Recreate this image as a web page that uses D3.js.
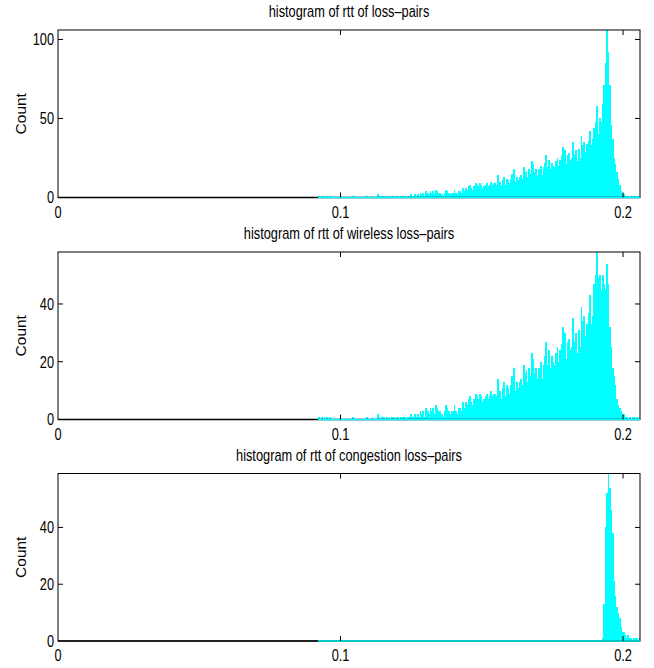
<!DOCTYPE html>
<html><head><meta charset="utf-8">
<script src="https://cdn.jsdelivr.net/npm/d3@7"></script>
<style>
body{margin:0;background:#fff}
.lbl{font-family:"Liberation Sans",Arial,sans-serif;font-size:16px;fill:#000}
.ylab{font-family:"Liberation Sans",Arial,sans-serif;font-size:15.5px;fill:#000}
</style>
</head><body>
<svg id="c" width="654" height="668"></svg>
<script>
// ---- data ----
const titles = ["histogram of rtt of loss\u2013pairs", "histogram of rtt of wireless loss\u2013pairs", "histogram of rtt of congestion loss\u2013pairs"];
const yLabel = "Count";
const binStart = 0.092;
const binWidth = 0.0005;
const xDomainMax = 0.206;
const xTicks = [0, 0.1, 0.2];
const xTickLabels = ["0", "0.1", "0.2"];
const yMaxes = [106, 58, 59];
const yTicks1 = [0, 50, 100];
const yTicks2 = [0, 20, 40];
const yTicks3 = [0, 20, 40];

const countsAll = [
1,0,1,0,1,0,1,0,1,0, 0,0,0,0,0,0,0,0,0,0, 0,0,0,0,1,0,0,0,0,0, 0,0,0,0,1,0,0,0,1,0,
0,0,2,1,0,1,1,0,1,0, 1,0,1,1,0,1,1,0,1,1, 1,1,0,1,1,2,1,1,2,1, 2,1,3,2,3,1,4,3,2,4,
3,4,2,5,4,3,
3,2,1,3,5,4,3,2,3,3, 5,3,2,4,4,3,6,4,6,5, 7,8,6,5,7,9,8,7,9,8, 6,7,8,9,7,8,10,8,9,9,
8,14,10,7,11,13,8,12,11,9, 12,15,18,10,13,11,13,14,12,19, 16,17,13,18,15,23,21,16,18,14,
18,20,14,19,22,27,19,24,18,22, 20,19,23,25,20,24,26,32,30,21, 27,28,24,25,35,27,30,23,31,25,
39,33,35,29,34,36,42,33,37,44, 48,58,40,50,48,59,71,85,106,92, 71,46,37,25,21,16,12,8,4,3,
2,1,1,1,0,1,1,1,1,0,1,1
];

const countsWireless = [
1,0,1,0,1,0,1,0,1,0, 0,0,0,0,0,0,0,0,0,0, 0,0,0,0,1,0,0,0,0,0, 0,0,0,0,1,0,0,0,1,0,
0,0,2,1,0,1,1,0,1,0, 1,0,1,1,0,1,1,0,1,1, 1,1,0,1,1,2,1,1,2,1, 2,1,3,2,3,1,4,3,2,4,
3,4,2,5,4,3,
3,2,1,3,5,4,3,2,3,3, 5,3,2,4,4,3,6,4,6,5, 7,8,6,5,7,9,8,7,9,8, 6,7,8,9,7,8,10,8,9,9,
8,14,10,7,11,13,8,12,11,9, 12,15,18,10,13,11,13,14,12,19, 16,17,13,18,15,23,21,16,18,14,
18,20,14,19,22,27,19,24,18,22, 20,19,23,25,20,24,26,32,30,21, 27,28,24,25,35,27,30,23,31,25,
39,34,36,29,33,37,43,33,36,47, 50,58,49,50,45,50,47,45,54,47, 32,25,18,15,12,7,5,4,3,2,
2,1,1,0,1,0,1,1,0,1,0,1
];

const countsCongestion = [
0,0,0,0,0,0,0,0,0,0, 0,0,0,0,0,0,0,0,0,0, 0,0,0,0,0,0,0,0,0,0, 0,0,0,0,0,0,0,0,0,0,
0,0,0,0,0,0,0,0,0,0, 0,0,0,0,0,0,0,0,0,0, 0,0,0,0,0,0,0,0,0,0, 0,0,0,0,0,0,0,0,0,0,
0,0,0,0,0,0,
0,0,0,0,0,0,0,0,0,0, 0,0,0,0,0,0,0,0,0,0, 0,0,0,0,0,0,0,0,0,0, 0,0,0,0,0,0,0,0,0,0,
0,0,0,0,0,0,0,0,0,0, 0,0,0,0,0,0,0,0,0,0, 0,0,0,0,0,0,0,0,0,0,
0,0,0,0,0,0,0,0,0,0, 0,0,0,0,0,0,0,0,0,0, 0,0,0,0,0,0,0,0,0,0,
0,0,0,0,0,0,0,0,0,0, 0,0,0,0,0,1,13,40,52,59, 54,46,38,21,16,12,10,8,5,3,
3,2,1,2,1,1,0,1,1,1,0,1
];

// ---- layout ----
const panels = [
  {title: titles[0], counts: countsAll, yMax: yMaxes[0], yTicks: yTicks1, top: 30},
  {title: titles[1], counts: countsWireless, yMax: yMaxes[1], yTicks: yTicks2, top: 252},
  {title: titles[2], counts: countsCongestion, yMax: yMaxes[2], yTicks: yTicks3, top: 473.5}
];
const left = 58, right = 640, ph = 167.5, tickLen = 5, squeeze = 0.8;
const svg = d3.select("#c");
const x = d3.scaleLinear().domain([0, xDomainMax]).range([left, right]);

function label(g, tx, ty, str, anchor, dy) {
  return g.append("text").attr("class", "lbl")
    .attr("transform", `translate(${tx},${ty}) scale(${squeeze},1)`)
    .attr("text-anchor", anchor).attr("dy", dy || null).text(str);
}

panels.forEach(p => {
  const bottom = p.top + ph;
  const y = d3.scaleLinear().domain([0, p.yMax]).range([bottom, p.top]);
  const g = svg.append("g");

  // bars
  g.append("g").attr("shape-rendering", "crispEdges").selectAll("rect")
    .data(p.counts.map((c, i) => ({c, x0: binStart + i * binWidth})).filter(d => d.c > 0))
    .join("rect")
    .attr("x", d => x(d.x0))
    .attr("width", d => x(d.x0 + binWidth) - x(d.x0) + 0.4)
    .attr("y", d => y(d.c))
    .attr("height", d => y(0) - y(d.c))
    .attr("fill", "#00ffff");

  // box
  g.append("rect").attr("x", left).attr("y", p.top).attr("width", right - left).attr("height", ph)
    .attr("fill", "none").attr("stroke", "#000").attr("stroke-width", 1);
  g.append("line").attr("x1", left).attr("x2", right).attr("y1", bottom).attr("y2", bottom)
    .attr("stroke", "#000").attr("stroke-width", 1.6);
  // cyan baseline over the histogram range (zero-height bins)
  g.append("line")
    .attr("x1", x(binStart)).attr("x2", x(binStart + p.counts.length * binWidth))
    .attr("y1", bottom).attr("y2", bottom)
    .attr("stroke", "#00ffff").attr("stroke-width", 1.6);

  // x ticks (inward, bottom and top)
  xTicks.forEach((t, i) => {
    if (t > 0) {
      g.append("line").attr("x1", x(t)).attr("x2", x(t)).attr("y1", bottom).attr("y2", bottom - tickLen).attr("stroke", "#000");
      g.append("line").attr("x1", x(t)).attr("x2", x(t)).attr("y1", p.top).attr("y2", p.top + tickLen).attr("stroke", "#000");
    }
    label(g, x(t), bottom + 20, xTickLabels[i], "middle");
  });

  // y ticks (inward, left and right)
  p.yTicks.forEach(t => {
    if (t > 0) {
      g.append("line").attr("x1", left).attr("x2", left + tickLen).attr("y1", y(t)).attr("y2", y(t)).attr("stroke", "#000");
      g.append("line").attr("x1", right).attr("x2", right - tickLen).attr("y1", y(t)).attr("y2", y(t)).attr("stroke", "#000");
    }
    label(g, left - 4, y(t), d3.format("d")(t), "end", "0.36em");
  });

  // y label
  g.append("text").attr("class", "ylab")
    .attr("transform", `translate(26,${(p.top + bottom) / 2}) rotate(-90)`)
    .attr("text-anchor", "middle").text(yLabel);

  // title
  label(g, (left + right) / 2, p.top - 13, p.title, "middle");
});
</script>
</body></html>
